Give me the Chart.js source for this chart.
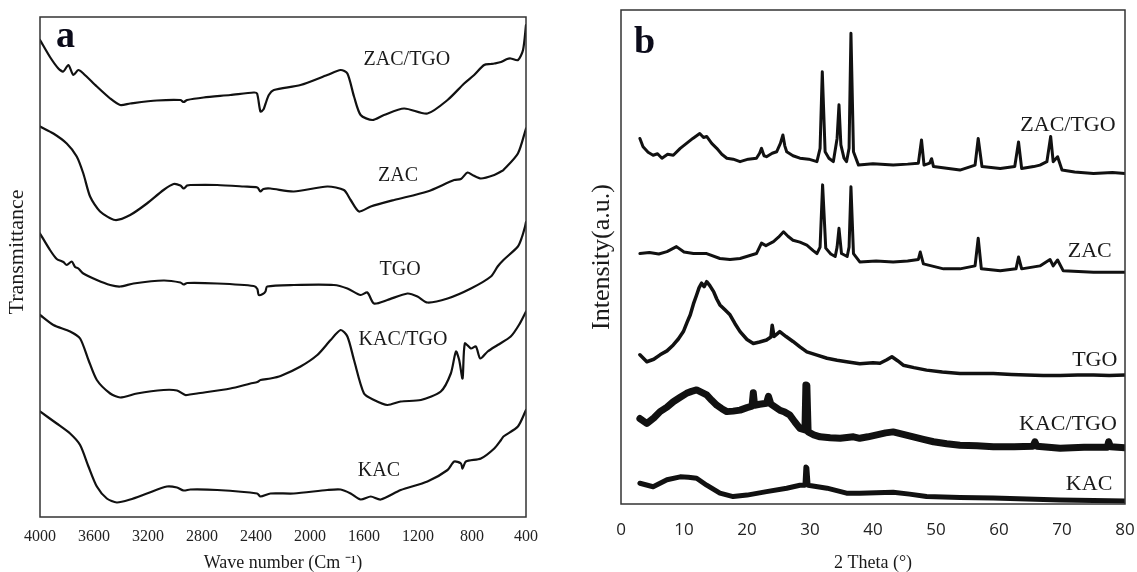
<!DOCTYPE html>
<html><head><meta charset="utf-8">
<script src="https://cdn.jsdelivr.net/npm/chart.js@4.4.1/dist/chart.umd.min.js"></script>
<style>
html,body{margin:0;padding:0;background:#fff;overflow:hidden;}
#wrap{position:relative;width:1137px;height:572px;background:#fff;}
#ca{position:absolute;left:0;top:0;}
#cb{position:absolute;left:568px;top:0;}
</style></head><body>
<div id="wrap"><canvas id="ca" width="568" height="572"></canvas><canvas id="cb" width="569" height="572"></canvas></div>
<script>
// ---------- Panel a: FTIR (wave number cm-1, transmittance a.u.) ----------
const ftirTicks = [400, 800, 1200, 1600, 2000, 2400, 2800, 3200, 3600, 4000];
const ftirNames = ['ZAC/TGO', 'ZAC', 'TGO', 'KAC/TGO', 'KAC'];
const ftirZacTgo = [[4000,95.4],[3926,92],[3864,89.7],[3827,89.1],[3790,90.4],[3753,88.4],[3716,89.4],[3679,88.7],[3579,86.1],[3480,83.7],[3406,82.4],[3332,82.7],[3134,83.3],[2960,83.4],[2936,83.0],[2910,83.4],[2788,83.9],[2590,84.4],[2417,84.9],[2392,84.7],[2367,81.1],[2345,81.5],[2330,82.6],[2305,84.4],[2268,85.4],[2070,86.4],[1872,88.4],[1773,89.4],[1723,88.7],[1674,84.1],[1625,80.4],[1538,79.4],[1452,80.4],[1303,81.7],[1130,80.7],[981,83.4],[858,86.7],[784,88.4],[710,90.4],[660,90.6],[635,90.7],[585,91],[540,91.6],[513,91.7],[459,91.4],[422,93.4],[400,98.4]];
const ftirZac = [[4000,78.1],[3901,76.7],[3802,74.7],[3728,72.1],[3679,68.7],[3629,64.1],[3555,61.1],[3443,59.4],[3332,60.4],[3208,62.7],[3085,65.4],[3010,66.6],[2960,66.3],[2936,65.7],[2910,66.3],[2887,66.4],[2688,66.4],[2491,66.1],[2390,65.9],[2367,65.1],[2345,65.6],[2293,65.7],[2120,65.1],[1872,66.1],[1749,65.4],[1699,63.4],[1637,61.1],[1550,62.1],[1377,63.4],[1130,65.1],[932,67.4],[882,67.6],[833,68.9],[790,68.3],[734,67.7],[635,68.4],[585,69.1],[567,69.4],[460,72.7],[400,77.7]];
const ftirTgo = [[4000,56.7],[3926,53.4],[3876,51.6],[3827,51.0],[3802,50.4],[3765,51.1],[3740,50.0],[3716,49.7],[3679,48.7],[3579,47.4],[3480,46.4],[3406,46.1],[3307,46.7],[3085,47.3],[2960,46.9],[2936,46.5],[2910,46.8],[2688,46.7],[2417,46.2],[2390,45.6],[2380,44.4],[2350,44.6],[2330,45.1],[2317,46.1],[2120,46.4],[1823,46.4],[1723,45.7],[1625,44.4],[1575,44.9],[1526,42.7],[1427,43.4],[1278,44.7],[1204,44.1],[1130,42.9],[981,43.7],[808,45.7],[660,48.1],[610,50.1],[567,51.4],[460,54.1],[430,56],[407,58.1],[400,59]];
const ftirKacTgo = [[4000,40.4],[3901,38.4],[3777,37.1],[3703,35.7],[3641,31.4],[3579,27.4],[3480,24.7],[3406,23.9],[3282,24.7],[3085,25.4],[2985,25.3],[2924,24.4],[2890,24.5],[2837,24.7],[2590,25.7],[2441,26.7],[2390,27.0],[2367,27.4],[2293,27.7],[2218,28.2],[2070,30.1],[1946,32.4],[1847,35.4],[1773,37.4],[1723,36.1],[1674,31.4],[1600,24.7],[1526,23.4],[1427,22.4],[1328,23.1],[1179,23.4],[1031,25.1],[957,28.7],[919,33.1],[895,31.4],[870,27.7],[853,34.7],[808,33.7],[771,34.1],[739,31.7],[684,33.1],[610,34.4],[513,36.1],[450,38.5],[400,41.1]];
const ftirKac = [[4000,21.1],[3876,18.7],[3777,16.7],[3703,14.4],[3641,10.1],[3579,6.1],[3505,3.7],[3431,2.9],[3332,3.5],[3208,4.7],[3060,6.1],[2985,5.9],[2936,5.3],[2887,5.5],[2688,5.4],[2392,4.7],[2367,4.1],[2293,4.7],[2120,4.7],[1872,5.4],[1773,5.5],[1699,4.7],[1625,3.5],[1550,4.1],[1476,3.5],[1328,5.4],[1130,7.1],[981,9.4],[932,11.1],[882,10.7],[870,9.7],[845,11.1],[734,11.7],[635,13.7],[585,15.4],[567,16.1],[460,18.1],[400,21.4]];

// ---------- Panel b: XRD (2 theta deg, intensity a.u.) ----------
const xrdTicks = [0, 10, 20, 30, 40, 50, 60, 70, 80];
const xrdNames = ['ZAC/TGO', 'ZAC', 'TGO', 'KAC/TGO', 'KAC'];
const xrdZacTgo = [[3.0,74.0],[3.5,72.3],[4.3,71.2],[5.1,70.6],[5.8,70.9],[6.5,70.0],[7.4,70.8],[8.3,70.6],[9.4,72.0],[10.4,73.0],[11.4,74.0],[12.5,75.0],[13.1,74.2],[13.6,74.4],[14.4,73.0],[15.2,72.0],[16.0,70.8],[16.8,70.0],[17.8,69.8],[18.9,69.3],[20.2,69.8],[21.5,70.0],[22.0,71.0],[22.3,72.0],[22.7,70.5],[23.1,70.3],[24.0,71.0],[24.7,71.3],[25.3,73.0],[25.7,74.7],[26.0,72.5],[26.3,71.3],[27.3,70.5],[28.4,70.0],[29.8,69.8],[31.1,69.3],[31.6,72.0],[31.95,87.5],[32.4,71.3],[33.0,70.0],[33.7,69.3],[34.3,74.0],[34.6,80.8],[34.9,72.7],[35.4,70.0],[35.8,69.3],[36.2,72.0],[36.5,95.3],[36.9,71.3],[37.7,68.6],[40.0,68.9],[43.2,68.6],[45.5,68.8],[47.2,69.0],[47.7,73.7],[48.1,68.6],[49.0,69.0],[49.3,69.9],[49.6,68.3],[52.0,67.9],[53.8,67.6],[55.5,68.3],[56.2,68.6],[56.7,74.0],[57.3,68.3],[60.2,67.9],[62.5,68.3],[63.1,73.3],[63.6,67.9],[65.5,68.3],[66.5,68.6],[67.6,69.3],[68.2,74.4],[68.6,69.3],[69.3,70.3],[70.0,67.6],[72.0,67.2],[75.0,66.9],[78.0,67.1],[80.0,66.9]];
const xrdZac = [[3.0,50.7],[4.5,50.9],[6.0,50.6],[7.3,51.1],[8.8,52.1],[10.0,51.0],[11.5,50.7],[13.6,50.7],[15.7,49.7],[17.3,49.5],[18.9,49.7],[20.2,50.2],[21.5,50.7],[22.3,52.8],[23.0,52.3],[24.2,53.1],[25.0,54.0],[25.8,55.1],[26.5,54.2],[27.3,53.4],[28.4,53.0],[29.5,52.4],[30.5,51.3],[31.1,50.7],[31.6,52.0],[32.0,64.6],[32.5,51.8],[33.3,50.6],[34.0,50.1],[34.3,52.0],[34.6,55.8],[35.0,50.7],[35.9,50.1],[36.2,52.0],[36.5,64.2],[36.9,50.7],[37.9,49.0],[40.5,49.2],[43.2,49.0],[45.5,49.2],[47.2,49.5],[47.5,51.0],[48.0,48.6],[51.2,47.6],[53.8,47.6],[56.2,48.2],[56.7,53.8],[57.2,47.6],[60.2,47.2],[62.7,47.6],[63.1,50.0],[63.6,47.6],[66.5,48.2],[68.1,49.5],[68.6,48.2],[69.3,49.4],[70.2,47.2],[75.0,46.9],[80.0,46.9]];
const xrdTgo = [[3.0,30.2],[4.1,28.8],[5.2,29.3],[6.2,30.2],[7.3,31.0],[8.3,32.2],[9.1,33.4],[9.9,34.9],[10.5,36.8],[11.0,38.3],[11.5,40.5],[12.0,42.3],[12.4,43.8],[12.8,44.7],[13.2,44.0],[13.6,45.0],[14.1,44.2],[14.7,43.0],[15.2,41.5],[15.7,40.3],[16.5,39.3],[17.3,38.3],[18.1,36.5],[18.9,34.9],[20.0,33.3],[21.0,32.5],[22.0,32.8],[23.1,33.2],[23.8,33.8],[24.0,36.2],[24.3,33.9],[25.2,34.9],[26.2,33.9],[27.3,32.9],[28.4,31.8],[29.5,30.8],[31.0,30.2],[32.7,29.5],[34.3,29.1],[35.8,28.8],[37.9,28.4],[40.0,28.6],[41.1,28.5],[42.2,29.2],[43.0,29.8],[43.9,29.0],[44.8,28.1],[46.5,27.6],[48.5,27.1],[51.0,26.7],[53.8,26.4],[56.5,26.4],[59.1,26.4],[62.0,26.2],[64.4,26.1],[67.0,26.0],[69.7,26.0],[72.5,26.1],[75.0,26.1],[77.5,26.0],[80.0,26.1]];
const xrdKacTgo = [[3.0,17.3],[4.1,16.3],[5.2,17.4],[6.2,18.7],[7.3,19.6],[8.3,20.7],[9.4,21.6],[10.4,22.4],[11.2,22.8],[12.0,23.1],[12.8,22.6],[13.6,22.1],[14.4,21.0],[15.2,20.0],[16.0,19.3],[16.8,18.7],[17.8,18.8],[18.9,19.0],[20.0,19.5],[20.8,19.8],[21.0,22.5],[21.2,20.0],[22.0,20.2],[23.1,20.4],[23.4,21.8],[23.8,20.2],[25.2,19.0],[26.0,18.6],[26.8,18.0],[27.6,16.6],[28.4,15.3],[29.2,15.0],[29.35,24.1],[29.5,24.0],[29.7,14.6],[30.6,14.0],[31.6,13.6],[33.2,13.4],[34.8,13.3],[36.9,13.6],[37.9,13.3],[39.2,13.6],[40.6,14.0],[42.0,14.4],[43.2,14.6],[44.8,14.1],[46.4,13.6],[48.0,13.1],[49.6,12.6],[51.7,12.2],[53.8,11.9],[56.5,11.8],[59.1,11.6],[62.4,11.6],[65.4,11.7],[65.7,12.6],[66.0,11.7],[69.7,11.3],[73.5,11.5],[77.2,11.5],[77.4,12.6],[77.7,11.6],[80.0,11.4]];
const xrdKac = [[3.0,4.2],[5.1,3.5],[7.3,4.9],[9.4,5.5],[10.7,5.4],[12.0,5.2],[13.6,3.8],[15.7,2.2],[17.8,1.5],[20.0,1.8],[23.1,2.5],[26.3,3.2],[28.4,3.8],[29.2,3.8],[29.35,7.5],[29.5,7.3],[29.7,3.8],[31.2,3.5],[32.7,3.2],[35.8,2.2],[37.9,2.2],[40.5,2.3],[43.2,2.4],[45.8,2.0],[48.5,1.5],[53.8,1.3],[59.1,1.2],[64.4,1.0],[69.7,0.8],[75.0,0.7],[80.0,0.6]];

// curve-name label anchors (data coordinates)
const ftirLabelAt = [[1282,91.4],[1348,68.2],[1333,49.4],[1311,35.4],[1489,9.2]];
const xrdLabelAt = [[70.95,76.7],[74.4,51.2],[75.2,29.1],[70.95,16.2],[74.3,4.0]];

const SERIF = '"Liberation Serif", "Times New Roman", serif';
const toXY = arr => arr.map(p => ({x: p[0], y: p[1]}));

const framePlugin = {
  id: 'frame',
  afterDatasetsDraw(chart, args, o) {
    const {ctx, chartArea: a} = chart;
    ctx.save();
    ctx.strokeStyle = '#333';
    ctx.lineWidth = 1.5;
    ctx.strokeRect(a.left, a.top, a.right - a.left, a.bottom - a.top);
    ctx.fillStyle = '#1a1a1a';
    ctx.font = o.labelFont;
    ctx.textAlign = 'center';
    ctx.textBaseline = 'middle';
    o.names.forEach((n, i) => {
      const p = o.at[i];
      ctx.fillText(n, chart.scales.x.getPixelForValue(p[0]), chart.scales.y.getPixelForValue(p[1]));
    });
    if (o.yTitle) {
      // vertical axis title, centred a little above the middle of the plot as in the reference
      ctx.save();
      ctx.font = o.yTitleFont;
      ctx.translate(o.yTitleX, (a.top + a.bottom) / 2 - o.yTitleRaise);
      ctx.rotate(-Math.PI / 2);
      ctx.fillText(o.yTitle, 0, 0);
      ctx.restore();
    }
    ctx.font = o.letterFont;
    ctx.textAlign = 'left';
    ctx.textBaseline = 'alphabetic';
    ctx.fillStyle = '#0b0b1a';
    ctx.fillText(o.letter, a.left + o.letterDx, a.top + o.letterDy);
    ctx.restore();
  }
};

function makeChart(id, cfg) {
  const ds = cfg.series.map((s, i) => ({
    label: cfg.names[i], data: toXY(s), borderColor: '#111', borderWidth: cfg.widths[i],
    pointRadius: 0, tension: cfg.tension, fill: false, borderJoinStyle: 'round', borderCapStyle: 'round'
  }));
  return new Chart(document.getElementById(id), {
    type: 'line',
    data: {datasets: ds},
    plugins: [framePlugin],
    options: {
      responsive: false, animation: false, devicePixelRatio: 1,
      layout: {padding: cfg.pad},
      plugins: {
        legend: {display: false}, tooltip: {enabled: false},
        frame: {names: cfg.names, at: cfg.labelAt, labelFont: cfg.labelFont, letter: cfg.letter,
                letterFont: 'bold 38px ' + SERIF, letterDx: cfg.letterDx, letterDy: cfg.letterDy,
                yTitle: cfg.drawnYTitle, yTitleFont: cfg.drawnYTitleFont, yTitleX: cfg.drawnYTitleX, yTitleRaise: cfg.drawnYTitleRaise}
      },
      scales: {
        x: {
          type: 'linear', reverse: cfg.reverse, min: cfg.min, max: cfg.max,
          afterBuildTicks: s => { s.ticks = cfg.ticks.map(v => ({value: v})); },
          ticks: {font: cfg.tickFont, color: '#222', padding: 0, maxRotation: 0, autoSkip: false,
                  callback: v => String(v)},
          grid: {display: false, drawTicks: true, tickLength: cfg.tickGap}, border: {display: false},
          title: {display: true, text: cfg.xTitle, color: '#1a1a1a', font: {family: SERIF, size: 18, lineHeight: 1}, padding: {top: 0, bottom: 0}},
          afterFit: s => { s.height = cfg.xH; }
        },
        y: {
          min: 0, max: 100,
          ticks: {display: false}, grid: {display: false, drawTicks: false}, border: {display: false},
          title: {display: !!cfg.yTitle, text: cfg.yTitle || '', color: '#1a1a1a', font: {family: SERIF, size: cfg.yTitleSize, lineHeight: 1}, padding: {top: cfg.yTitlePad, bottom: 0}},
          afterFit: s => { s.width = cfg.yW; }
        }
      }
    }
  });
}

makeChart('ca', {
  series: [ftirZacTgo, ftirZac, ftirTgo, ftirKacTgo, ftirKac], names: ftirNames, labelAt: ftirLabelAt,
  widths: [2.2, 2.2, 2.2, 2.2, 2.2], tension: 0.25, reverse: true, min: 400, max: 4000, ticks: ftirTicks,
  tickFont: {family: SERIF, size: 16}, tickGap: 10, xTitle: 'Wave number (Cm \u207B\u00B9)', xH: 55,
  yTitle: null, yW: 40,
  drawnYTitle: 'Transmittance', drawnYTitleFont: '22px ' + SERIF, drawnYTitleX: 17, drawnYTitleRaise: 15,
  pad: {left: 0, top: 17, right: 42, bottom: 0},
  labelFont: '20px ' + SERIF, letter: 'a', letterDx: 16, letterDy: 30
});

makeChart('cb', {
  series: [xrdZacTgo, xrdZac, xrdTgo, xrdKacTgo, xrdKac], names: xrdNames, labelAt: xrdLabelAt,
  widths: [3, 3, 3.5, 7, 5], tension: 0, reverse: false, min: 0, max: 80, ticks: xrdTicks,
  tickFont: {family: '"Liberation Sans Narrow", "Open Sans", sans-serif', size: 17}, tickGap: 16, xTitle: '2 Theta (\u00B0)', xH: 68,
  yTitle: 'Intensity(a.u.)', yTitleSize: 26, yTitlePad: 21, yW: 53,
  pad: {left: 0, top: 10, right: 12, bottom: 0},
  labelFont: '22px ' + SERIF, letter: 'b', letterDx: 13, letterDy: 43
});
</script>
</body></html>
